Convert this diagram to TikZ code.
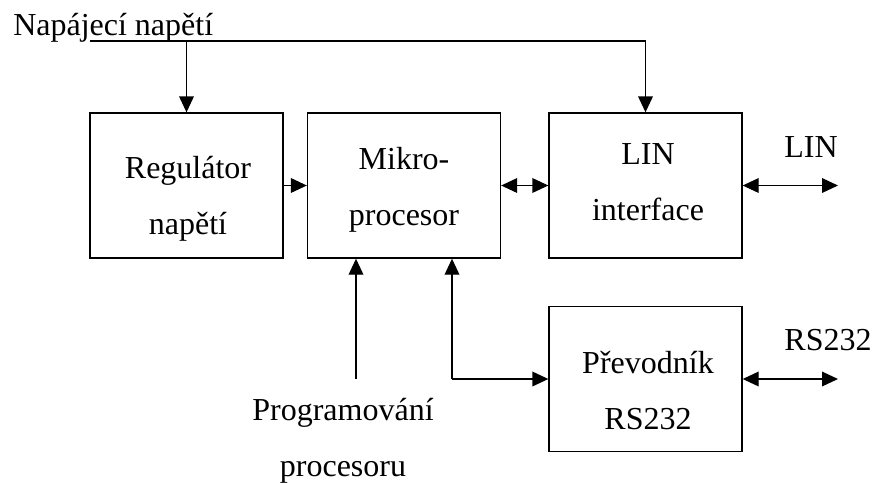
\documentclass[tikz,border=0pt]{standalone}
\usepackage{fontspec}
\setmainfont{Liberation Serif}
\usetikzlibrary{arrows.meta}
\tikzset{
  blok/.style={draw,line width=1pt,rectangle,minimum width=144.75pt,minimum height=108.75pt,inner sep=0pt},
  popis/.style={align=center,font=\fontsize{24}{42}\selectfont,inner sep=0pt},
  spoj/.style={line width=1pt,-{Triangle[length=12pt,width=11pt]}},
  spoj2/.style={line width=1pt,{Triangle[length=12pt,width=11pt]}-{Triangle[length=12pt,width=11pt]}}
}
\begin{document}
\begin{tikzpicture}[x=0.75pt,y=-0.75pt]
        \useasboundingbox (0,0) rectangle (873,482);
        %% Blocks
        \node[blok] (reg) at (186.5,185.5) {};
        \node[blok] (mcu) at (404,185.5) {};
        \node[blok] (lin) at (645.5,185.5) {};
        \node[blok] (conv) at (645.5,379) {};
        %% Block texts
        \node[popis] (regtxt) at (188,199) {Regulátor\\napětí};
        \node[popis] (mcutxt) at (404,190) {Mikro-\\procesor};
        \node[popis] (lintxt) at (648,182) {LIN\\interface};
        \node[popis] (convtxt) at (648,391) {Převodník\\RS232};
        %% Outer labels
        \node[popis,anchor=west] (pwrtxt) at (13,28) {Napájecí napětí};
        \node[popis] (progtxt) at (343,441) {Programování\\procesoru};
        \node[popis] (linlbl) at (811,147) {LIN};
        \node[popis] (rslbl) at (828,340) {RS232};
        %% Supply
        \coordinate (pwr) at (90,41);
        \coordinate (pwrend) at (645.5,41);
        \draw[line width=1pt] (pwr) -- (pwrend);
        \draw[spoj] (pwrend) -- (lin.north);
        \draw[spoj] (reg.north |- pwr) -- (reg.north);
        %% Links
        \draw[spoj] (reg.east) -- (mcu.west);
        \draw[spoj2] (mcu.east) -- (lin.west);
        \coordinate (linout) at (838,185.5);
        \draw[spoj2] (lin.east) -- (linout);
        \coordinate (rsout) at (838,379);
        \draw[spoj2] (conv.east) -- (rsout);
        \coordinate (prog) at (356,379);
        \draw[spoj] (prog) -- (prog |- mcu.south);
        \coordinate (ser) at (452,379);
        \draw[spoj] (ser) -- (ser |- mcu.south);
        \draw[spoj] (ser) -- (conv.west);
\end{tikzpicture}
\end{document}
